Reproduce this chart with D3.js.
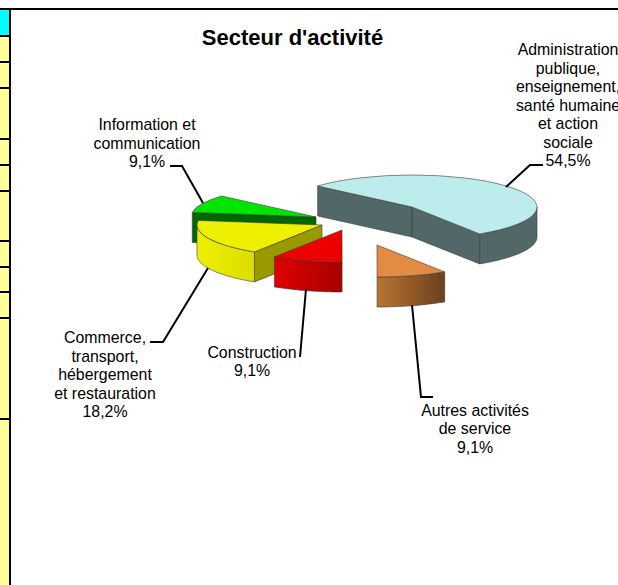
<!DOCTYPE html>
<html><head><meta charset="utf-8">
<style>html,body{margin:0;padding:0;background:#fff;overflow:hidden}svg{display:block}text{font-family:"Liberation Sans",Arial,sans-serif;fill:#000}</style>
<script src="https://cdn.jsdelivr.net/npm/d3@7"></script></head><body>
<script>
const categories=["Administration publique","Autres activités de service","Construction","Commerce","Information et communication"];
const values=[54.5,9.1,9.1,18.2,9.1];
const labelLines=[
 ["Administration","publique,","enseignement,","santé humaine","et action","sociale"],
 ["Autres activités","de service"],
 ["Construction"],
 ["Commerce,","transport,","hébergement","et restauration"],
 ["Information et","communication"]];
const topColors=["#bcecec","#e38b42","#ee0000","#efef00","#00e600"];
const wallStops=[["#526868","#526868"],["#bd7433","#6a4020"],["#e00000","#a80000"],["#efef00","#dddd00"],["#006600","#006600"]];
const cutColors=["#526868",null,null,"#999900","#006600"];
const apexX=[412,377,342,322,316], apexY=[207,245,230,225,217];
const labelX=[568,475,252,105,147], labelBase=[55,415.5,357.5,343,130];
const leaders=[[[543,165],[530,165],[506,187]],[[433,397],[421,397],[412,305]],[[300,357],[306,289]],[[150,342],[163,342],[208,268]],[[170,166],[182,166],[203,203]]];
const rowLines=[8,35,61,87,138,164,190,240,266,291,317,418];

const W=618,H=585,rx=125,ry=32,depth=30,lh=18.5;
const rad=d=>d*Math.PI/180;
const svg=d3.select("body").append("svg").attr("width",W).attr("height",H);
const defs=svg.append("defs");

// left strip
svg.append("rect").attr("x",0).attr("y",8).attr("width",9).attr("height",H-8).attr("fill","#ffff99");
svg.append("rect").attr("x",0).attr("y",10).attr("width",9).attr("height",25).attr("fill","#00ffff");
svg.selectAll("line.row").data(rowLines).join("line").attr("class","row")
 .attr("x1",0).attr("x2",d=>d===8?W:10).attr("y1",d=>d+1).attr("y2",d=>d+1).attr("stroke","#000").attr("stroke-width",2);
svg.append("line").attr("x1",10).attr("x2",10).attr("y1",8).attr("y2",H).attr("stroke","#000").attr("stroke-width",2);

svg.append("text").attr("x",292.5).attr("y",44.5).attr("text-anchor","middle").attr("font-size",22).attr("font-weight","bold").text("Secteur d'activité");

const arcs=d3.pie().sort(null).startAngle(rad(-49)).endAngle(rad(311))(values);
const arcGen=d3.arc().innerRadius(0).outerRadius(rx);
const edge="#3a3a3a";

// draw order back to front
[0,4,3,2,1].forEach(i=>{
 const a=arcs[i],ax=apexX[i],ay=apexY[i];
 const px=t=>ax+rx*Math.sin(t), py=t=>ay-ry*Math.cos(t);
 const g=svg.append("g").attr("class","slice").datum(a);
 // cut faces
 const cut=(t)=>g.append("path").attr("d",d3.area().x(d=>d).y0((d,k)=>k?py(t):ay).y1((d,k)=>(k?py(t):ay)+depth)([ax,px(t)]))
   .attr("fill",cutColors[i]).attr("stroke",edge).attr("stroke-width",0.6);
 if(i===0){cut(a.startAngle);cut(a.endAngle);}
 if(i===3){cut(a.startAngle);}
 if(i===4){cut(a.startAngle);}
 // rim
 const lo=Math.max(a.startAngle,Math.PI/2), hi=Math.min(a.endAngle,3*Math.PI/2);
 if(hi>lo){
  const id="wall"+i, ts=d3.range(0,41).map(k=>lo+(hi-lo)*k/40);
  const grad=defs.append("linearGradient").attr("id",id).attr("gradientUnits","userSpaceOnUse")
    .attr("x1",Math.min(px(lo),px(hi))).attr("x2",Math.max(px(lo),px(hi))).attr("y1",0).attr("y2",0);
  grad.append("stop").attr("offset",0).attr("stop-color",wallStops[i][0]);
  grad.append("stop").attr("offset",1).attr("stop-color",wallStops[i][1]);
  g.append("path").attr("d",d3.area().x(px).y0(py).y1(t=>py(t)+depth)(ts))
   .attr("fill",`url(#${id})`).attr("stroke",edge).attr("stroke-width",0.6);
 }
 // top face
 g.append("path").attr("transform",`translate(${ax},${ay}) scale(1,${ry/rx})`).attr("d",arcGen(a))
  .attr("fill",topColors[i]).attr("stroke",edge).attr("stroke-width",0.6).attr("vector-effect","non-scaling-stroke");
});

// leaders
svg.selectAll("path.leader").data(leaders).join("path").attr("class","leader")
 .attr("d",d3.line()).attr("fill","none").attr("stroke","#000").attr("stroke-width",2);

// labels
labelLines.forEach((ls,i)=>{
 const t=svg.append("text").attr("text-anchor","middle").attr("font-size",15.9);
 ls.concat([String(values[i]).replace(".",",")+"%"]).forEach((s,k)=>{
  t.append("tspan").attr("x",labelX[i]).attr("y",labelBase[i]+k*lh).text(s);
 });
});
</script></body></html>
